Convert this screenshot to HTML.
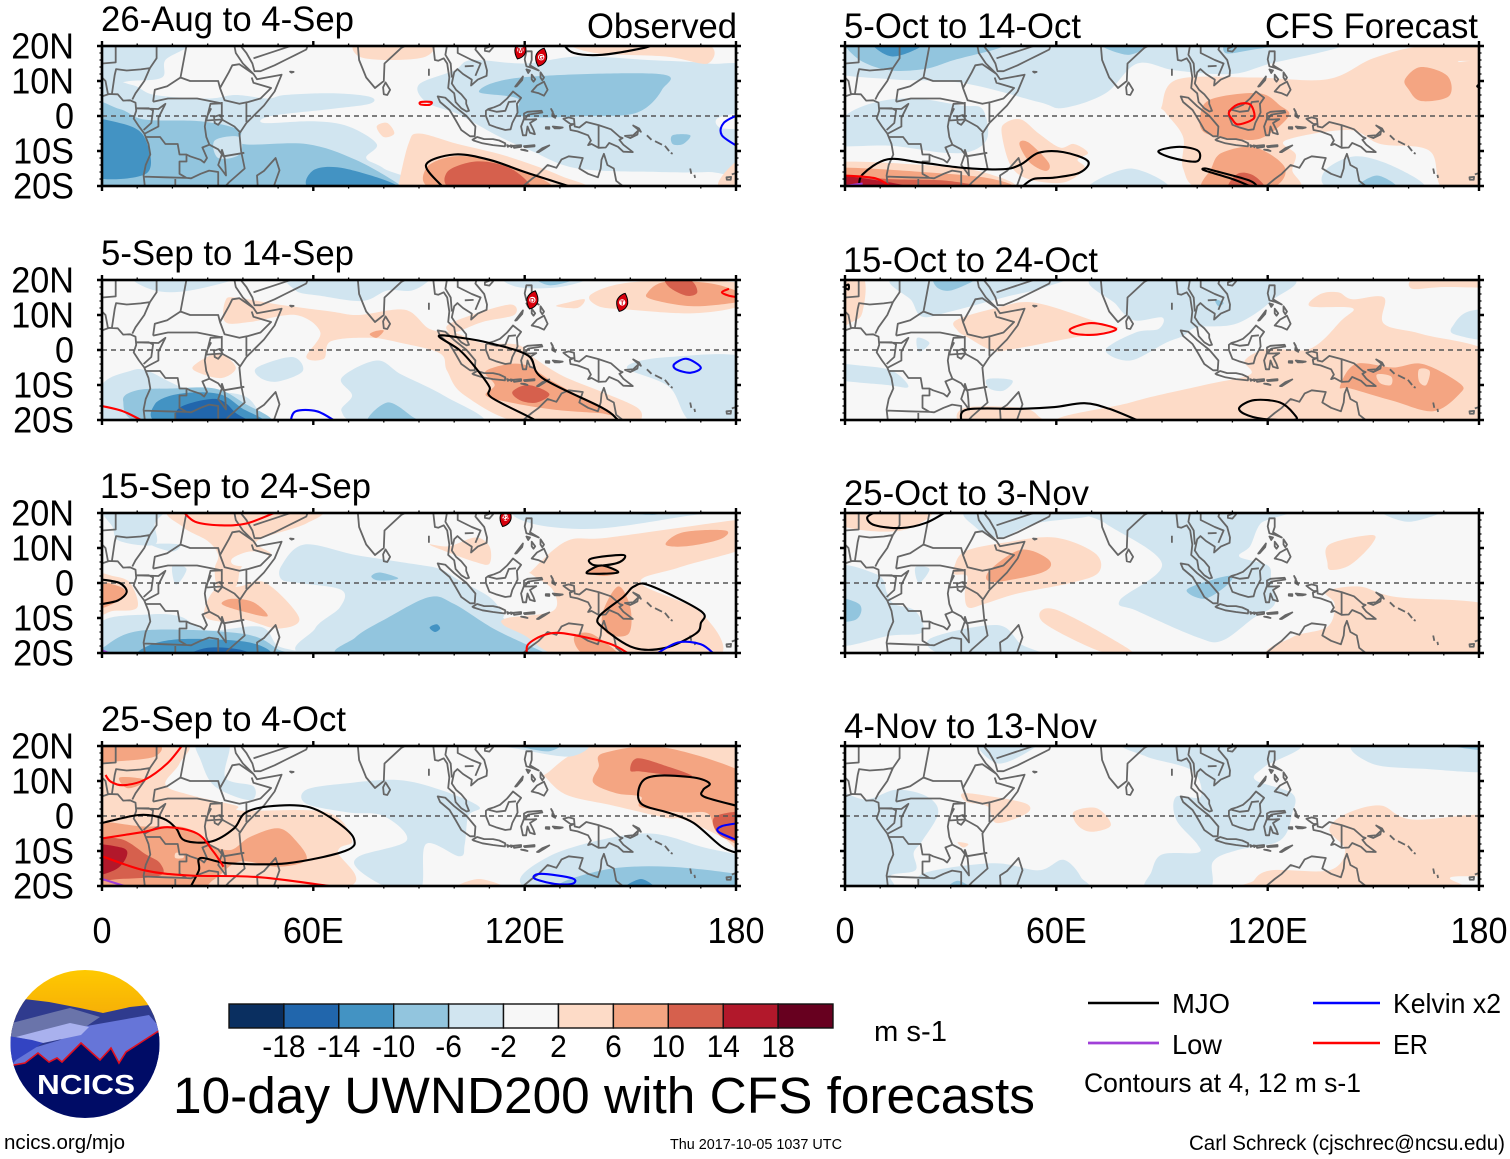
<!DOCTYPE html>
<html lang="en">
<head>
<meta charset="utf-8">
<title>10-day UWND200 with CFS forecasts</title>
<style>
html,body{margin:0;padding:0;background:#fff;}
svg{display:block;font-family:"Liberation Sans",Arial,sans-serif;fill:#000;}
</style>
</head>
<body>
<svg id="chart" xmlns="http://www.w3.org/2000/svg" width="1510" height="1159" viewBox="0 0 1510 1159">
<defs>
<clipPath id="logo-clip"><ellipse cx="85" cy="1044" rx="74.5" ry="74"/></clipPath>
<linearGradient id="sun-grad" x1="0" y1="0" x2="0" y2="1"><stop offset="0" stop-color="#ffca00"/><stop offset="1" stop-color="#f2a20a"/></linearGradient>
</defs>
<g id="panels"></g>

<g font-size="35.5">
<text x="101" y="31" textLength="253" lengthAdjust="spacingAndGlyphs">26-Aug to 4-Sep</text>
<text x="587" y="38" textLength="150" lengthAdjust="spacingAndGlyphs">Observed</text>
<text x="101" y="265" textLength="253" lengthAdjust="spacingAndGlyphs">5-Sep to 14-Sep</text>
<text x="100" y="498" textLength="271" lengthAdjust="spacingAndGlyphs">15-Sep to 24-Sep</text>
<text x="101" y="731" textLength="245" lengthAdjust="spacingAndGlyphs">25-Sep to 4-Oct</text>
<text x="844" y="38" textLength="237" lengthAdjust="spacingAndGlyphs">5-Oct to 14-Oct</text>
<text x="1265" y="38" textLength="213" lengthAdjust="spacingAndGlyphs">CFS Forecast</text>
<text x="843" y="272" textLength="255" lengthAdjust="spacingAndGlyphs">15-Oct to 24-Oct</text>
<text x="844" y="505" textLength="245" lengthAdjust="spacingAndGlyphs">25-Oct to 3-Nov</text>
<text x="844" y="738" textLength="253" lengthAdjust="spacingAndGlyphs">4-Nov to 13-Nov</text>
</g>

<g id="colorbar"></g>
<text x="874" y="1041" font-size="29" textLength="73" lengthAdjust="spacingAndGlyphs">m s-1</text>

<text x="173" y="1113" font-size="51" textLength="862" lengthAdjust="spacingAndGlyphs">10-day UWND200 with CFS forecasts</text>
<text x="4" y="1149" font-size="20.5" textLength="121" lengthAdjust="spacingAndGlyphs">ncics.org/mjo</text>
<text x="670" y="1149" font-size="14.5" textLength="172" lengthAdjust="spacingAndGlyphs">Thu 2017-10-05 1037 UTC</text>
<text x="1189" y="1150" font-size="21" textLength="316" lengthAdjust="spacingAndGlyphs">Carl Schreck (cjschrec@ncsu.edu)</text>

<g font-size="28">
<line x1="1088" y1="1003" x2="1159" y2="1003" stroke="#000" stroke-width="2.4"/>
<text x="1172" y="1013" textLength="58" lengthAdjust="spacingAndGlyphs">MJO</text>
<line x1="1088" y1="1043" x2="1159" y2="1043" stroke="#a040d8" stroke-width="2.8"/>
<text x="1172" y="1054" textLength="50" lengthAdjust="spacingAndGlyphs">Low</text>
<line x1="1313" y1="1003" x2="1380" y2="1003" stroke="#0000ff" stroke-width="2.4"/>
<text x="1393" y="1013" textLength="108" lengthAdjust="spacingAndGlyphs">Kelvin x2</text>
<line x1="1313" y1="1043" x2="1380" y2="1043" stroke="#ff0000" stroke-width="2.4"/>
<text x="1393" y="1054" textLength="35" lengthAdjust="spacingAndGlyphs">ER</text>
<text x="1084" y="1092" font-size="26.5" textLength="277" lengthAdjust="spacingAndGlyphs">Contours at 4, 12 m s-1</text>
</g>

<g>
<g clip-path="url(#logo-clip)">
<rect x="8" y="968" width="154" height="70" fill="url(#sun-grad)"/>
<polygon fill="#2f3b8e" points="8,1003 24,999 49,1002 80,1008 103,1013 130,1007 149,1005 162,1008 162,1070 8,1070"/>
<polygon fill="#6a74aa" points="8,1024 54,1012 70,1008 100,1017 81,1030 27,1038 8,1042"/>
<polygon fill="#6675d8" points="81,1027 149,1015 162,1030 162,1060 100,1070 8,1072 20,1052 60,1040"/>
<polygon fill="#a9b1ee" points="35,1032 70,1023 89,1027 81,1035 43,1043 16,1037"/>
<polygon fill="#3344c2" points="8,1036 32,1040 43,1043 16,1060 8,1068"/>
<polygon fill="#000c66" stroke="#e01020" stroke-width="1.6" points="8,1066 14,1065 25,1063 38,1053 49,1062 57,1058 62,1062 81,1043 100,1060 111,1048 119,1063 126,1052 157,1032 164,1028 164,1122 8,1122"/>
</g>
<text x="37" y="1094" font-size="28" font-weight="bold" fill="#fff" style="fill:#fff" textLength="98" lengthAdjust="spacingAndGlyphs">NCICS</text>
</g>
</svg>

<script>
// ---- axis tick values and labels ----
const lonMajor = [0, 60, 120, 180];
const lonLabels = ['0', '60E', '120E', '180'];
const lonMinor = [10, 20, 30, 40, 50, 70, 80, 90, 100, 110, 130, 140, 150, 160, 170];
const latMajor = [20, 10, 0, -10, -20];
const latLabels = ['20N', '10N', '0', '10S', '20S'];
const latMinor = [18, 16, 14, 12, 8, 6, 4, 2, -2, -4, -6, -8, -12, -14, -16, -18];
// ---- colour bins (lower bound of each bin) and labelled bin edges ----
const levelBins = [-22, -18, -14, -10, -6, -2, 2, 6, 10, 14, 18];
const levelTicks = [-18, -14, -10, -6, -2, 2, 6, 10, 14, 18];

// ---- anomaly regions: [bin lower bound, [[lon,lat],...]] ----
const shadeP1 = [
[-6,[[-5,10],[8,9],[15,6],[30,5],[38,6],[47,5],[52,6],[65,6.5],[76,5.5],[76,3.5],[65,2],[48,0],[46,-2],[60,-1.5],[70,-3],[78,-8],[75,-12],[80,-15],[88,-22],[-5,-22]]],
[-6,[[-5,21],[-5,9],[8,10],[17,11],[18,16],[24,21]]],
[-6,[[90,9],[100,13],[105,16],[120,15],[135,17],[155,16],[172,15],[185,12],[185,-15],[172,-16],[158,-16],[135,-15],[122,-10],[113,-6],[104,-1],[100,1],[92,4]]],
[-2,[[175,-0.5],[185,1],[185,-3],[176,-3.5]]],
[-10,[[107,7],[119,11],[158,12],[159,7.5],[152,1],[138,0],[119,0],[118,5]]],
[-10,[[162,-5.5],[167,-5.5],[165,-8],[162,-8]]],
[-10,[[-5,3],[5,2],[12,-1],[28,-1.5],[39,-4],[40,-8],[58,-8],[72,-12.5],[85,-20],[85,-22],[-5,-22]]],
[-6,[[32,-7],[39,-6],[39,-11],[33,-12]]],
[-14,[[-5,-2],[5,-2],[12,-6],[12.5,-16.5],[-5,-16.5]]],
[-14,[[60,-15.5],[69,-15],[84,-20.5],[60,-21]]],
[2,[[84,-20.5],[87,-8],[90,-5],[101,-8],[115,-11.5],[130,-17],[135,-21],[84,-21]]],
[2,[[78,-3],[81,-2],[83,-5],[80,-6]]],
[2,[[73,21],[73,17],[82,16],[92,17],[93,21]]],
[2,[[135,21],[140,18],[160,17],[172,15],[170,21]]],
[2,[[175,-20],[180,-13],[185,-12],[185,-21]]],
[6,[[92,-15],[100,-11.5],[112,-13],[125,-18],[125,-21],[95,-21]]],
[10,[[98,-16],[106,-13],[115,-14.5],[121,-19],[120,-21],[100,-21]]]
];
const shadeP2 = [
[-6,[[55,17],[62,15.5],[74,14],[81,17],[88,17],[93,20],[93,22],[55,22]]],
[-6,[[10,21],[15,17],[25,17],[38,21]]],
[-6,[[115,21],[118,18],[130,18],[138,21]]],
[-10,[[123,21],[127,18.5],[134,20],[134,21]]],
[-6,[[0,-10],[8,-6],[13,-6],[24,-11],[40,-13],[46,-19],[54,-21],[0,-21]]],
[-10,[[6,-14.5],[10,-11.5],[20,-11],[32,-11],[40,-15],[47,-21],[12,-21]]],
[-14,[[15,-15.5],[22,-12.5],[33,-12.5],[39.5,-16.5],[45,-21],[17,-21]]],
[-18,[[22,-16.5],[32.5,-14],[38,-18],[41,-21],[23,-21]]],
[-6,[[44,-5],[54,-2],[57,-6],[50,-9],[45,-8]]],
[-6,[[68,-8],[78,-3],[85,-7],[97,-13],[108,-21],[75,-21],[68,-17.5],[71,-13]]],
[-10,[[75.5,-21],[81,-15],[88,-19],[90,-21]]],
[-6,[[149,-5],[161,-2],[185,-3],[185,-21],[168,-21],[161,-10.5]]],
[2,[[35,14],[38,15],[50,13],[65,11],[73,10],[86,11.5],[93,6],[100,5],[108,2],[118,1.5],[123,-2.5],[131,-7.5],[142,-12],[152,-16.5],[153,-20],[150,-21],[120,-21],[103,-13],[98,-6],[96,-1],[85,2],[76,3.5],[65,2.5],[63,-2.5],[58,-2],[62,5],[55,10],[42,8],[35,8]]],
[2,[[98,7],[105,10],[116,13],[117,10],[108,8],[100,5]]],
[2,[[129,12.5],[132,13.5],[137,14.5],[135,12]]],
[2,[[139,16],[152,19.5],[182,19],[182,13],[168,10.5],[150,11.5],[141,12.5]]],
[6,[[155,16.5],[160,19.5],[173,19],[182,16],[182,14],[168,12.5],[156,14.5]]],
[10,[[160,21],[161,18],[166,15.5],[169,16.5],[167,20]]],
[6,[[76,4.5],[78,5.5],[80,5.5],[78,3.5]]],
[2,[[26,-4.5],[33,-1],[38,-5],[34,-8],[27.5,-6.5]]],
[6,[[109,-6],[119,-4],[128,-9],[144,-18],[141,-18],[128,-17],[116,-15],[109,-13],[111.5,-10]]],
[10,[[116.5,-12],[121,-10],[127,-12.5],[123.5,-15],[119,-14.5]]]
];
const shadeP3 = [
[-6,[[51,5],[57.5,11],[72,8],[88,5.5],[96,4],[101,1],[110,-4],[114,-9],[115,-11],[128,-21],[60,-21],[60.5,-13],[67.5,-7],[68,-2],[56,0],[51,1]]],
[-10,[[70,-21],[72,-15.5],[81,-10],[93,-4],[100,-6],[112,-13.5],[127,-20.5],[127,-21]]],
[-14,[[93,-12.7],[95,-11.8],[96,-13],[94.5,-14]]],
[-10,[[76.5,2],[79,3],[84,1.5],[82,0.8],[78,0.8]]],
[-6,[[121,21],[122,17],[140,15.5],[165,19],[175,21]]],
[-10,[[140,21],[155,19.5],[160,20],[172,20],[172,21]]],
[-6,[[0,-11],[13,-9],[22,-9.5],[30,-13.5],[45,-12.5],[50,-18],[58,-21],[0,-21]]],
[-10,[[1,-18],[12,-13.5],[40,-14.5],[50,-19],[52,-21],[1,-21]]],
[-14,[[13,-18],[23,-16],[42,-17],[46,-21],[13,-21]]],
[-18,[[25,-21],[30,-18.5],[39,-19],[42,-21]]],
[-6,[[1,21],[3,16],[5,12],[15,11],[15,17],[17,21]]],
[-6,[[14,11],[20,9],[22,11]]],
[-6,[[20,5],[24,4],[21,-0.5]]],
[2,[[21,21],[23,16],[30,12],[33,8],[32,4],[33,-1],[38,-1],[40,5],[48,8],[44,12],[58,17],[60,21]]],
[-2,[[37,7],[42,9],[47,8],[46,5],[38,5]]],
[2,[[29,-9],[32,-2],[39,-1],[46.5,0],[56,-10],[50,-13],[40.5,-10.5],[33.5,-11]]],
[6,[[34,-6],[37,-4.5],[43,-5.5],[47,-9.5],[39.5,-8]]],
[2,[[-2,2],[3,2],[8,0],[10,-7],[3,-8],[-2,-9]]],
[6,[[-2,0],[5,-1],[6.5,-3],[3,-6],[-2,-7]]],
[2,[[122,3.5],[132,12],[144,13],[180,18],[185,18],[185,11],[164,4.5],[153,0],[170,-8.5],[175,-21],[146,-21],[129,-20.5],[120,-15],[114,-12],[115,-10],[128,-8],[128,-2],[122,2.5]]],
[6,[[160,11],[165,14.5],[177,15],[175.5,12.5],[166,10.5]]],
[6,[[142,-9],[146.5,-1],[150,-7],[149.5,-14.5],[143.5,-14.5]]],
[6,[[134,-15.5],[139,-14.5],[147,-21],[137,-20.5]]],
[6,[[138,3],[142,5],[146,3],[142.5,2]]],
[2,[[93,11],[98.5,10.5],[106,13],[110,10.5],[110,5.5],[106,6],[99,8.5]]]
];
const shadeP4 = [
[2,[[-5,21],[23,21],[22,15],[18,9],[25,6],[38,3],[40,1.5],[64,1],[71,-7],[67,-10],[67,-21],[-5,-21]]],
[6,[[-5,21],[15,21],[15,17],[3,15.5],[-5,15]]],
[6,[[5,11],[12,10.5],[11,9],[7,8]]],
[6,[[-5,-3],[12,-3],[22,-3],[27,-5],[30,-8],[36.5,-9.7],[42,-6],[50,-3.5],[55,-7],[58,-12.5],[50,-14.5],[39,-13],[32,-18],[25,-21],[-5,-21]]],
[10,[[-5,-7.5],[5,-6.5],[12.5,-11],[16.5,-13.5],[16.5,-17],[5,-18],[-5,-18]]],
[14,[[-5,-8.5],[5.5,-9],[7,-11.5],[3.5,-15.5],[-5,-17]]],
[2,[[21,-10.5],[23,-11],[23,-12],[20.8,-12]]],
[2,[[126,12],[142,20.5],[185,20.5],[185,-11],[176,-6],[165,-1],[160,-0.5],[145,3],[132,6],[126,11]]],
[6,[[141,14],[142.5,18],[160,19.5],[185,11],[185,2.5],[185,-9],[175,-5],[172,0.7],[165,1],[153,2.5],[153,5.5],[146,6.5],[139.5,9.5]]],
[10,[[150,13],[152,16.5],[161,14],[167.5,11.5],[163,11.5],[153,12.7]]],
[10,[[174,-0.2],[185,0.8],[185,-7],[176,-6]]],
[2,[[100,-21],[107,-18],[115,-21]]],
[-6,[[27,21],[36,21],[35,11],[43,8.5],[42,4.5],[32,8.5],[28,16]]],
[-6,[[58,7.5],[69,9.3],[84,10.3],[96,7.5],[107,2.7],[104,0],[103,-8],[101.5,-11.5],[92,-8],[90.5,-21],[82.5,-21],[73,-15.5],[73,-11.5],[86.5,-7],[80,0],[70,1],[58,3.5]]],
[-6,[[111,21],[137,21],[133,17],[119,19]]],
[-10,[[115,21],[130,21],[127,18.5],[120,19.5]]],
[-6,[[127,-11.5],[153,-5],[171,-9],[185,-13],[185,-21],[123,-21]]],
[-10,[[131.5,-21],[142,-15.5],[161,-14.5],[185,-17.5],[185,-21]]],
[-14,[[148,-21],[153,-18],[157,-21]]]
];
const shadeP5 = [
[-6,[[-5,13],[13,10.5],[33,9.5],[55,4],[62,2.3],[74,6.5],[83,15],[94,13],[110,12],[121,15],[140,19.5],[141,22],[-5,22]]],
[-6,[[0,0],[9,4],[20,5],[33,3],[39,2],[40.5,-6],[36,-10],[28,-10.5],[13,-8.5],[-5,-8]]],
[-10,[[0,20],[5,15.5],[13,13],[23,13.5],[31,16],[44,19.5],[46,22],[0,22]]],
[-14,[[8,20],[13.5,17],[21,19.5],[22,22],[8,22]]],
[-10,[[72,21],[80,17.5],[86,20],[86,22]]],
[-10,[[108,18],[116,19],[127,21],[110,22]]],
[-6,[[69,-21],[81,-15],[92,-21]]],
[-6,[[136,-16],[145,-11.5],[157,-15],[164,-21],[139,-21]]],
[-10,[[145,-21],[151,-17],[157,-21]]],
[2,[[90,3],[94.5,10.5],[116,11],[137,10.5],[150,16.5],[164,20],[185,20.5],[185,16],[174,15.5],[185,12],[185,-21],[170,-21],[166,-10],[152,-8],[143,-4],[125,-7],[128,-11],[127,-15.5],[128,-21],[102,-21],[96,-15],[96,-6],[91,1]]],
[6,[[101,1],[104.5,5],[117.5,6.5],[123.5,3],[126,0],[119,-6],[112,-6.7],[102,-4.7]]],
[6,[[104,-15],[107,-10.5],[116.5,-9],[125,-15],[120,-21],[102,-21]]],
[10,[[109,-21],[111.5,-16.5],[116,-17],[119,-21]]],
[6,[[159,10.5],[163.5,14],[171,11.5],[171.5,5.7],[163.5,4.3],[160,7.6]]],
[2,[[44.5,-5],[45.5,-2],[50,-1],[55,-5],[61,-9],[65,-8],[69,-10.5],[66,-12.5],[68,-15],[62,-19],[52,-18],[47,-14]]],
[6,[[49.5,-8],[52,-7.5],[57.8,-13.3],[57,-15.7],[52.5,-13.3]]],
[2,[[-5,-13.5],[22,-14],[39,-16],[46,-21],[-5,-21]]],
[6,[[-5,-15],[22,-16],[42,-18],[44,-21],[-5,-21]]],
[10,[[-5,-16.7],[12,-18],[29,-18.5],[38,-21],[-5,-21]]],
[14,[[-5,-17],[10,-18.5],[19,-21],[-5,-21]]]
];
const shadeP6 = [
[-6,[[15,21],[19,14],[22,9.5],[30,11],[45,15],[57,18],[60,21]]],
[-10,[[26,18],[30,17],[37,20],[37,21],[26,21]]],
[-6,[[72,21],[77,13],[82,8.5],[90,9.3],[89,6],[82.5,5],[74,0],[81,-3],[91,2],[96,4],[100,6.5],[111,7.5],[121,14],[125,21]]],
[-10,[[105,14.5],[107.5,13.5],[106,12.5]]],
[-6,[[-5,-4],[5,-4.5],[13.5,-6],[18,-10.5],[12,-10],[-5,-8]]],
[-6,[[20.5,3.5],[24,2],[21,-0.5]]],
[-6,[[40.5,-8.3],[47.5,-8.7],[45,-11.6],[41,-11]]],
[-6,[[173,7.5],[177,11],[185,11],[185,3],[173,4.5]]],
[2,[[-5,21],[5,21],[5,11],[2,8],[-5,6]]],
[2,[[31.5,8.5],[43,12],[54,13.5],[73,7.5],[77,6],[62,3],[48,0.3],[42,-0.2],[35,3.5],[32,5.5]]],
[2,[[66,-21],[81,-15],[102,-10],[115,-7],[113.5,-3],[120,0.3],[132,0.3],[141,8.5],[144,12],[132,12.5],[135,16],[140,16.5],[144,14.5],[153,15],[153,7.5],[164,4.5],[185,-2],[185,-21]]],
[2,[[161,17.5],[163,20.5],[185,20.5],[185,18],[170,18]]],
[2,[[34,-16.5],[50,-16.5],[55,-19],[55,-21],[34,-21]]],
[6,[[140.5,-10.5],[145,-4],[155.5,-5],[164,-4],[174.5,-9.5],[174.5,-12.5],[167,-17.5],[155.5,-14.5],[143.5,-11]]],
[2,[[151,-7],[155,-7.5],[155,-10],[152,-9.5]]],
[2,[[163,-5.5],[166,-6],[165,-10],[163,-9]]]
];
const shadeP7 = [
[-6,[[69,21],[74,17],[90,5.5],[78,-5],[83,-8],[100,-15.5],[107,-16.5],[116,-10],[122,-6],[121,1],[120,5],[112,7.5],[115,10.5],[118,17],[124,21]]],
[-6,[[36,21],[37,16],[44,13],[54,17],[69,19],[69,21]]],
[-6,[[152,21],[160,17.5],[170,21]]],
[-6,[[-5,4],[9,2.5],[12,-3],[14,-6],[20,-8],[22,-14],[13,-15],[-5,-17]]],
[-6,[[24,-16],[43,-12],[50,-17.5],[56,-21],[30,-21]]],
[-6,[[20,4.5],[24,4],[21,0]]],
[-10,[[-5,-4],[4,-6],[3,-10.5],[-5,-10.5]]],
[-10,[[97,-2],[104.5,1],[110,2],[108,-1],[102,-4.5]]],
[2,[[-5,21],[24,21],[16,15],[0,16]]],
[2,[[31,4.6],[34,9],[45,11.5],[59.5,13],[71,8.5],[72,3],[64,0],[49,-3],[39.5,-6],[35,-7],[34,-3],[34.7,2],[31,2.5]]],
[6,[[41,3.5],[50,9.5],[58,6.5],[56,3],[42,0.3]]],
[2,[[56,-11],[59.5,-7.5],[80,-18.5],[80,-20.7],[71,-19]]],
[2,[[137.5,11],[149.5,13.7],[149.5,11],[143.5,5.2],[138,3.7],[137,5.7]]],
[2,[[123.5,-21],[127,-15.5],[137,-12.5],[139,-6],[136.5,-2.5],[146,-1],[156.5,-4],[185,-7],[185,-21]]]
];
const shadeP8 = [
[-6,[[-5,5.5],[6,4.7],[14.5,7.5],[23,5.7],[26.5,1],[22,-7],[19.5,-10.5],[20,-15.5],[13,-17],[13,-21],[-5,-21]]],
[-6,[[22,-16.5],[42,-13.5],[55,-15.5],[62,-12.5],[67,-17.5],[66,-21],[26.5,-21]]],
[-6,[[81,21],[85.5,17],[98.5,13],[101,5.5],[94,5.5],[94,-1],[100,-8],[100,-10.5],[90,-11],[87,-16],[86,-21],[103,-21],[104.5,-13],[111.5,-9.7],[123.5,-7],[127,0.7],[127,6.4],[116.5,10.3],[119,14],[128,21]]],
[-6,[[38,21],[43.5,15],[53,19],[53,21]]],
[-6,[[146,21],[149.5,15],[164,13.5],[185,13],[185,21]]],
[-10,[[173,20],[185,18.5],[185,21]]],
[-10,[[29,-21],[32,-18.5],[36,-21]]],
[2,[[33.5,6.5],[42,5.5],[51.5,3.5],[51.5,0.7],[43,-2],[40.5,2.7],[34.5,4]]],
[2,[[65,1.2],[71.5,2.2],[75.5,-2.6],[70,-4.5],[66,-2.6]]],
[2,[[32,-7.5],[35,-8],[33.5,-9]]],
[2,[[116,-18.5],[121,-15.5],[137.5,-15.5],[142,-9.7],[137.5,-4],[142,0.5],[152,3],[161,-1],[185,-0.5],[185,-15.5],[172,-17.5],[172,-21],[116,-21]]]
];

// ---- filtered-wave contours: [wave, closed?, [[lon,lat],...]] ----
const contourP1 = [
['mjo',0,[[97,-20.5],[92,-14],[100,-11],[110,-12.5],[120,-16],[134,-20.5]]],
['mjo',0,[[131,20.5],[134,18],[142,17.5],[154,19.5],[156,20.5]]],
['kelvin',0,[[181,0.5],[176.5,-2],[176,-5.5],[181,-9]]],
['er',1,[[90.5,4],[93.5,4],[93,3.2],[90.5,3.3]]]
];
const contourP2 = [
['mjo',0,[[147,-20.5],[146,-19.5],[142,-16.5],[125,-8],[121,-1.6],[110,2],[102,3.5],[95.6,4],[101.5,0],[106,-5],[110,-10.5],[110.5,-13.5],[122,-19.5],[123,-20.5]]],
['kelvin',1,[[162.5,-4],[166,-2.5],[170,-5],[167,-6.5],[163,-5.5]]],
['kelvin',0,[[53.5,-20.5],[55,-17.5],[61,-17.5],[66.5,-20.5]]],
['er',0,[[0,-16],[6,-17.5],[12,-20.5]]],
['er',0,[[178,17.5],[176,16.5],[178,15.5],[181,15]]]
];
const contourP3 = [
['er',0,[[23,20.5],[26.5,17.5],[33.5,16.5],[41,17],[50,20.5]]],
['mjo',0,[[0,1],[5,0],[7,-2.5],[4.5,-5],[0,-6]]],
['mjo',1,[[139,7],[148,8],[147,6],[142,5],[139,5.4]]],
['mjo',1,[[142,5],[146.5,3],[138,2.7],[139,4]]],
['mjo',1,[[151,-1],[155.5,-0.7],[170,-8],[170,-11.5],[168.5,-14.5],[160,-18.5],[151,-18.5],[142.5,-13],[141,-9.7],[148,-4]]],
['er',0,[[120.7,-20.5],[121,-17.5],[126,-14.7],[132,-14.5],[144,-17.3],[150,-20.5]]],
['kelvin',0,[[157,-20.5],[163.5,-17],[170,-17.5],[174,-20.5]]],
['low',0,[[0,-19.2],[2.5,-20.3]]]
];
const contourP4 = [
['mjo',0,[[0,-2],[10.5,0.3],[17.3,-0.7],[21,-3.5],[23.5,-7],[31,-7.3],[37.5,-3.5],[40.5,0.8],[47,2.7],[58,2.7],[66,-1.2],[71.5,-6.4],[69,-10],[52.5,-13.5],[36,-13.5],[28,-12],[27.5,-15.5],[25,-20.5]]],
['mjo',0,[[181,2.7],[171,5.5],[170.7,7.5],[172.5,9.3],[168,11],[157.5,11.5],[153,9.3],[153,3.6],[161.3,0.8],[168,-2],[176,-8.8],[181,-10.7]]],
['er',0,[[23,20.5],[18.5,15],[12,10.3],[6,8.8],[2.5,9.8],[1,11.7]]],
['er',0,[[0,-6.4],[12,-4.5],[18.7,-3.2],[27,-5],[31.5,-10],[34.5,-14.5]]],
['er',0,[[0,-11.5],[12,-15.5],[25,-17],[45,-17.5],[70,-20.8]]],
['kelvin',1,[[122.7,-17.8],[124.7,-16.5],[133.5,-17.8],[133.5,-19.4],[128.5,-19.4]]],
['kelvin',0,[[181,-2],[176,-2.9],[175,-4.5],[181,-7.2]]],
['low',0,[[0,-18],[8,-20.5]]]
];
const contourP5 = [
['mjo',0,[[4,-20.5],[5,-16.7],[12,-12.4],[21.7,-13.3],[33.5,-14.8],[45,-15.2],[50,-13.8],[55,-10.5],[62,-10.3],[69,-12.9],[66.6,-16.2],[59.5,-17.6],[53.5,-18],[50,-20.5]]],
['mjo',1,[[89,-10],[95,-8.8],[100.3,-10],[99.8,-13],[92.7,-11.9]]],
['mjo',1,[[102,-15.5],[110,-18],[116.5,-20.5],[115,-18.5],[105,-15.7],[102.5,-15]]],
['er',1,[[109,1],[111.5,3.3],[115,3.3],[116.3,0],[115,-1.4],[111.5,-2.4],[110,-1]]],
['er',0,[[0,-17],[8.6,-17.8],[13.4,-20.5]]],
['low',0,[[0,-20],[5,-19.3]]],
['mjo',1,[[179.5,8.5],[181,9.5],[181,8]]]
];
const contourP6 = [
['er',1,[[64,6],[70,7.7],[77,6],[71.5,4.4],[65.5,4.6]]],
['mjo',0,[[33,-20.5],[34.7,-17],[50,-16.8],[59.5,-16.3],[68,-15.2],[75,-16.8],[84,-20.5]]],
['mjo',1,[[112,-16.4],[116.3,-14.3],[123.5,-15],[127.5,-18.3],[127.5,-20],[118.7,-19.7],[113.5,-18.3]]],
['mjo',1,[[0,18],[1,18.7],[1,17.3]]]
];
const contourP7 = [
['mjo',0,[[29,20.5],[23,17.2],[16,15.7],[8.5,16.5],[6.3,18.7],[9,20.5]]]
];
const contourP8 = [];

// ---- tropical cyclones: [name, lon, lat] ----
const stormP1 = [['M',118.8,18.9],['G',124.7,16.8]];
const stormP2 = [['D',122.2,14.3],['T',147.7,13.6]];
const stormP3 = [['22',114.6,18.7]];
const stormP4 = [];
const stormP5 = [];
const stormP6 = [];
const stormP7 = [];
const stormP8 = [];

// ---- base map (lon/lat), shared by all panels ----
const landClosed = [
[[79.8,8.2],[80.5,9.6],[81.8,7.5],[81,6],[80,6.2]],
[[44.2,-20],[44,-17],[46,-15.7],[49.3,-12],[50.4,-15.5],[49.5,-18],[48.8,-20]],
[[95.3,5.6],[97.5,5.2],[100,2.8],[103.5,0],[106,-3],[105.8,-5.8],[104.5,-5.8],[102,-4],[100.3,-1],[98.7,1.7],[96,4]],
[[105.2,-6.8],[106.5,-6],[108.5,-6.6],[111,-6.6],[112.8,-7],[114.5,-7.8],[114.4,-8.7],[111,-8.3],[108,-7.8],[105.5,-7]],
[[115,-8.3],[115.7,-8.6],[115.2,-8.8]],
[[116,-8.4],[116.6,-8.5],[116.2,-8.9]],
[[116.8,-8.5],[119,-8.3],[119,-8.8],[117,-9.1]],
[[119.8,-8.6],[122.8,-8.3],[122.8,-8.7],[120,-8.9]],
[[119,-9.6],[120.8,-10],[120,-9.7]],
[[123.5,-10.3],[125,-9.2],[127,-8.4],[125.5,-9.4],[124,-10.3]],
[[109,1.5],[109.7,2],[111.3,2.5],[113,3.2],[115,5],[116.7,7],[119,5.2],[117.8,3.5],[118,1],[117.5,0],[116.5,-2],[116,-3.8],[114.5,-4],[111.8,-3.2],[110,-2.5],[109,0]],
[[119.8,0.7],[120.8,1.2],[124.8,1.5],[125,1],[121,0.4],[120,-1],[121.6,-1],[123.3,-0.9],[121.5,-2],[122.5,-4],[122.9,-5.2],[121.5,-4.8],[120.8,-3],[120.4,-5.5],[119.5,-5.5],[119,-3],[119.8,-0.8]],
[[127.5,2],[128,1],[128.7,-0.5],[127.8,0],[128,1.2]],
[[126,-3.2],[127,-3.2],[127,-3.7],[126,-3.6]],
[[128,-3],[130.8,-3.3],[130,-3.5],[128.5,-3.5]],
[[131,-0.8],[132.5,-0.4],[134,-0.8],[134.2,-3],[135.5,-3.3],[137.5,-1.7],[141,-2.6],[144.5,-3.8],[147,-6],[147.8,-6.3],[146.9,-6.8],[148,-8.2],[150.7,-10.3],[148,-10.2],[146.5,-8.8],[144,-7.7],[143,-9],[141,-9.1],[139,-8],[138,-8.3],[138.8,-7],[138,-5.5],[135,-4.4],[133,-4],[132.8,-2.8],[134,-2.3],[133,-2.3],[131.9,-1.5]],
[[148.5,-5.7],[150.8,-5.5],[152.2,-4.2],[152,-5.3],[150,-6.3]],
[[150.8,-2.7],[153,-4.5],[152.5,-3.6]],
[[120.5,18.5],[122,18.5],[122,16],[121.5,14.5],[124,13],[122,13.8],[120.5,14.2],[120,16.2]],
[[122,7],[123.5,8.7],[125.5,9.8],[126.5,7.5],[125.5,5.8],[124,6.5]],
[[122,11.8],[123,10.5],[122.5,9.8],[122,10.5]],
[[124.5,12.5],[125.5,11],[125,10.2],[124.5,11]],
[[117.3,8.4],[119.5,11.3],[119.3,10.3],[117.7,8.5]],
[[120.5,13.3],[121.5,13],[121,12.3]],
[[108.7,19.3],[110.5,20],[111,19.6],[110,18.4],[108.7,18.6]],
[[31.8,-0.2],[33.5,0.3],[34.2,-1],[33,-2.5],[32,-2]],
[[177.3,-17.5],[178.6,-17.4],[178.5,-18.2],[177.4,-18.2]],
[[53.4,12.7],[54.4,12.6],[53.8,12.4]]
];
const landOpen = [
[[0,5.6],[2,6.3],[4.5,6.2],[6,4.4],[8,4.5],[9.5,3.8],[9.7,1.5],[9,-0.7],[10.5,-3],[12,-5],[13.2,-8],[13.7,-11],[12.4,-14],[11.8,-17],[12.2,-20.5]],
[[37.5,20.5],[38,18],[40,15],[43,12],[44,10.5],[51,11.8],[49,7],[46,3],[41,-2],[39,-5],[39.5,-10],[40.5,-15],[36,-19],[34.7,-20.5]],
[[39,20.5],[41,18],[42.7,15],[43.3,12.8],[45,12.8],[49,14.5],[52,16],[55,17.5],[58,19],[58.5,20.5]],
[[43,16.5],[46,17.5],[49,18.5],[52,19.5],[55,20.5]],
[[72.6,20.5],[73,16],[75,11],[77.5,8],[80,10],[80.2,15],[85,19.5],[87,20.5]],
[[94,20.5],[94.5,16],[95.5,15.8],[97,16.5],[98,15],[98.6,11],[98.3,8],[100,6.5],[100.4,4],[102,2.2],[103.5,1.3],[104.2,1.5],[103.4,3.5],[103.4,4.5],[102,6.2],[100.5,7.5],[99.3,9.3],[100,12.5],[100.9,13.4],[102.5,12],[105,10.4],[104.8,8.7],[106.7,10.4],[109.2,11.5],[109.3,13],[108.5,16],[106,19],[106.5,20.5]],
[[119,-20.5],[122,-18],[124,-16.5],[126.5,-14],[129,-14.8],[130.5,-12.4],[132.5,-11.5],[136.5,-12],[136,-13.5],[135.5,-15],[138,-16.5],[140.8,-17.5],[141.6,-15],[141.8,-12.5],[142.5,-10.8],[143.5,-14],[145.3,-15],[146,-18.5],[148.5,-20.5]],
[[141,-2.6],[141,-9.1]],
[[92.8,13.5],[92.8,11.5]],
[[154.7,-5.5],[156,-6.8]],
[[157,-7.2],[159,-8.2]],
[[159.8,-8.5],[161,-10]],
[[161.5,-10.5],[162,-10.8]],
[[167,-15],[167.3,-16.5]],
[[168.2,-16.8],[168.4,-17.7]],
[[178.8,-16.7],[180,-16.3]],
[[3.9,20.5],[3.9,15.3],[0,15]],
[[0,11],[1,10],[1.7,6.2]],
[[2.8,6.3],[3.6,11.7],[4,13.4],[7,13],[11,13.3],[13.6,13.7],[15.5,16.5],[15.5,20.5]],
[[13.6,13.7],[12,10],[9.5,6.5],[8.6,4.7]],
[[14.5,4.1],[15,7.5],[18.5,8.5],[22.3,11],[23.9,19.7],[23.9,20.5]],
[[14.5,4.1],[18.7,5],[27,5],[34,3.6]],
[[22.3,11],[25,10],[30,10],[33,10],[33.5,8],[36,12.5],[37,14.5],[39,14.8],[43,12]],
[[33.5,8],[34.8,4.5],[39,3.5],[41.5,4],[45,5],[48,8],[43,9.5],[42.5,11]],
[[34,4],[34,1],[34,-1],[37.6,-3],[39.2,-4.7]],
[[41,-1.7],[41,3.9]],
[[9.8,2.2],[13.3,2.2],[14.5,1.6],[14,-2],[11.8,-4]],
[[9.8,2.2],[16,2],[18,3.5],[16,-0.5],[16,-3],[12.2,-5]],
[[12.5,-6],[16.5,-6],[18,-8],[21.5,-8],[22,-11],[24,-11],[24,-13],[22,-13],[22,-16.5],[24,-17.7],[18,-17.5],[12,-17.3]],
[[24,-17.7],[25.3,-17.8],[28,-16.5],[30.4,-15.6],[33,-16],[33,-20.5]],
[[20.8,-18],[20.8,-20.5]],
[[31,2.2],[29.6,-0.5],[29.2,-3],[29.6,-6],[30.5,-8.2],[33,-9.5],[34.5,-11.5],[40.4,-10.5]],
[[34,3.6],[30.8,3.5],[29.6,-1.3],[34,-1]],
[[22,-11],[24,-11],[25,-11.5],[28,-12.5],[29,-13.3],[29.8,-12],[28.5,-9],[30.5,-8.2]],
[[34,-9.5],[34.8,-12],[35,-14],[35.2,-17],[34.5,-16],[33,-14],[34,-11],[34,-9.5]],
[[98,20.5],[97.5,17.5],[99,15],[99.3,11]],
[[101,20.5],[101,18],[105,16],[107.5,15],[106,11.5]],
[[103,14.2],[105.5,14.3]],
[[109.7,1.8],[112,1.2],[114.5,1.5],[115.5,4],[117.5,4.2]]
];

// ---- layout and colours ----
const SVGNS = 'http://www.w3.org/2000/svg';
const columnLeft = [102, 845];
const rowTop = [46, 280, 513, 746];
const PW = 634, PH = 140;
const binColor = {'-22':'#0a2f60','-18':'#2166ac','-14':'#4393c3','-10':'#92c5de','-6':'#d1e5f0','-2':'#f7f7f7','2':'#fddbc7','6':'#f4a582','10':'#d6604d','14':'#b2182b','18':'#67001f'};
const waveColor = {mjo:'#000',kelvin:'#0000ff',er:'#ff0000',low:'#a040d8'};

function xAxis(col){ return function(lon){ return columnLeft[col] + lon * PW / 180; }; }
function yAxis(row){ return function(lat){ return rowTop[row] + (20 - lat) * PH / 40; }; }

function make(tag, attrs, parent){
  const el = document.createElementNS(SVGNS, tag);
  for (const k in attrs) el.setAttribute(k, attrs[k]);
  parent.appendChild(el);
  return el;
}
function fmt(n){ return n.toFixed(1); }
function smoothPath(pts, closed, X, Y){
  const p = pts.map(function(d){ return [X(d[0]), Y(d[1])]; });
  const n = p.length;
  let s = 'M' + fmt(p[0][0]) + ' ' + fmt(p[0][1]);
  const last = closed ? n : n - 1;
  for (let i = 0; i < last; i++){
    const p0 = closed ? p[(i - 1 + n) % n] : p[Math.max(i - 1, 0)];
    const p1 = p[i];
    const p2 = closed ? p[(i + 1) % n] : p[i + 1];
    const p3 = closed ? p[(i + 2) % n] : p[Math.min(i + 2, n - 1)];
    s += 'C' + fmt(p1[0] + (p2[0] - p0[0]) / 6) + ' ' + fmt(p1[1] + (p2[1] - p0[1]) / 6) + ' ' +
         fmt(p2[0] - (p3[0] - p1[0]) / 6) + ' ' + fmt(p2[1] - (p3[1] - p1[1]) / 6) + ' ' +
         fmt(p2[0]) + ' ' + fmt(p2[1]);
  }
  return s + (closed ? 'Z' : '');
}
function straightPath(pts, closed, X, Y){
  return pts.map(function(d, i){ return (i ? 'L' : 'M') + fmt(X(d[0])) + ' ' + fmt(Y(d[1])); }).join('') + (closed ? 'Z' : '');
}

const panelDefs = [
  {col:0,row:0,shade:shadeP1,contour:contourP1,storm:stormP1},
  {col:0,row:1,shade:shadeP2,contour:contourP2,storm:stormP2},
  {col:0,row:2,shade:shadeP3,contour:contourP3,storm:stormP3},
  {col:0,row:3,shade:shadeP4,contour:contourP4,storm:stormP4},
  {col:1,row:0,shade:shadeP5,contour:contourP5,storm:stormP5},
  {col:1,row:1,shade:shadeP6,contour:contourP6,storm:stormP6},
  {col:1,row:2,shade:shadeP7,contour:contourP7,storm:stormP7},
  {col:1,row:3,shade:shadeP8,contour:contourP8,storm:stormP8}
];

const root = document.getElementById('panels');
const defs = document.querySelector('defs');

panelDefs.forEach(function(def, idx){
  const X = xAxis(def.col), Y = yAxis(def.row);
  const x0 = X(0), x1 = X(180), y0 = Y(20), y1 = Y(-20);
  const clip = make('clipPath', {id:'clip-panel-' + idx}, defs);
  make('rect', {x:x0, y:y0, width:PW, height:PH}, clip);

  const g = make('g', {}, root);
  
  

  const plot = make('g', {'clip-path':'url(#clip-panel-' + idx + ')'}, g);
  
  

  const bg = make('rect', {x:x0, y:y0, width:PW, height:PH, fill:binColor['-2']}, plot);
  
  

  def.shade.forEach(function(s){
    const region = make('path', {d:smoothPath(s[1], true, X, Y), fill:binColor[String(s[0])]}, plot);
    
    
  });

  const coast = make('g', {fill:'none', stroke:'#666', 'stroke-width':1.8, 'stroke-linejoin':'round'}, plot);
  
  
  let land = '';
  landClosed.forEach(function(c){ land += straightPath(c, true, X, Y); });
  landOpen.forEach(function(c){ land += straightPath(c, false, X, Y); });
  make('path', {d:land}, coast);

  const eq = make('line', {x1:x0, x2:x1, y1:Y(0), y2:Y(0), stroke:'#555', 'stroke-width':1.4, 'stroke-dasharray':'5 4'}, plot);
  
  

  def.contour.forEach(function(c){
    const line = make('path', {d:smoothPath(c[2], !!c[1], X, Y), fill:'none', stroke:waveColor[c[0]], 'stroke-width':2.1}, plot);
    
    
  });

  def.storm.forEach(function(s){
    const cx = X(s[1]), cy = Y(s[2]);
    const st = make('g', {transform:'translate(' + fmt(cx) + ' ' + fmt(cy) + ')'}, plot);
    
    
    make('path', {d:'M3 -9C-1 -8 -6 -4 -5.5 1C-5.5 5 -4 7 -3 9C2 8 6 4 5.5 -1C5.5 -4 4 -7 3 -9Z', fill:'#d8000c', stroke:'#000', 'stroke-width':1}, st);
    make('circle', {cx:0, cy:0, r:3.2, fill:'#fff'}, st);
    const label = make('text', {x:0, y:2.4, 'text-anchor':'middle', 'font-size':6.5, 'font-weight':'bold', style:'fill:#d8000c'}, st);
    label.textContent = s[0];
    
    
  });

  const ticks = make('g', {stroke:'#000', fill:'none'}, g);
  
  
  let major = '', minor = '';
  lonMajor.forEach(function(l){ const x = fmt(X(l)); major += 'M' + x + ' ' + (y0 - 5) + 'V' + y0 + 'M' + x + ' ' + y1 + 'V' + (y1 + 5); });
  lonMinor.forEach(function(l){ const x = fmt(X(l)); minor += 'M' + x + ' ' + (y0 - 2.5) + 'V' + y0 + 'M' + x + ' ' + y1 + 'V' + (y1 + 2.5); });
  latMajor.forEach(function(l){ const y = fmt(Y(l)); major += 'M' + (x0 - 5) + ' ' + y + 'H' + x0 + 'M' + x1 + ' ' + y + 'H' + (x1 + 5); });
  latMinor.forEach(function(l){ const y = fmt(Y(l)); minor += 'M' + (x0 - 2.5) + ' ' + y + 'H' + x0 + 'M' + x1 + ' ' + y + 'H' + (x1 + 2.5); });
  make('path', {d:major, 'stroke-width':2.4}, ticks);
  make('path', {d:minor, 'stroke-width':1.3}, ticks);

  const frame = make('rect', {x:x0, y:y0, width:PW, height:PH, fill:'none', stroke:'#000', 'stroke-width':2.6}, g);
  
  

  if (def.col === 0){
    latMajor.forEach(function(l, i){
      const t = make('text', {transform:'translate(74 ' + fmt(Y(l) + 12.5) + ') scale(.95 1)', 'text-anchor':'end', 'font-size':36}, g);
      t.textContent = latLabels[i];
      
      
    });
  }
  if (def.row === 3){
    lonMajor.forEach(function(l, i){
      const t = make('text', {transform:'translate(' + fmt(X(l)) + ' 943) scale(.95 1)', 'text-anchor':'middle', 'font-size':36}, g);
      t.textContent = lonLabels[i];
      
      
    });
  }
});

// ---- colorbar ----
const cbarG = document.getElementById('colorbar');
const cbarLeft = 229, cbarWidth = 604, cbarTop = 1004, cbarHeight = 24;
function cbarX(v){ return cbarLeft + (v + 22) * cbarWidth / 44; }
levelBins.forEach(function(b){
  const box = make('rect', {x:fmt(cbarX(b)), y:cbarTop, width:fmt(cbarWidth / 11), height:cbarHeight, fill:binColor[String(b)], stroke:'#111', 'stroke-width':1.4}, cbarG);
  
  
});
levelTicks.forEach(function(v){
  const t = make('text', {transform:'translate(' + fmt(cbarX(v)) + ' 1057) scale(.95 1)', 'text-anchor':'middle', 'font-size':31.5}, cbarG);
  t.textContent = String(v);
  
  
});
</script>
</body>
</html>
